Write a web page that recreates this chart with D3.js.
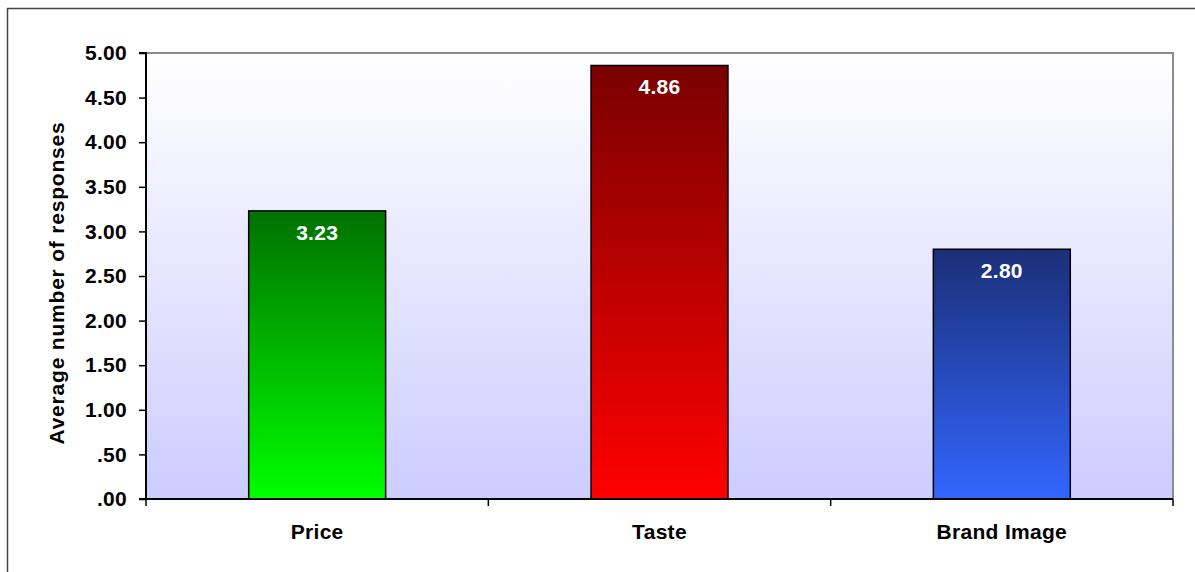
<!DOCTYPE html>
<html>
<head>
<meta charset="utf-8">
<script src="https://cdn.jsdelivr.net/npm/d3@7"></script>
<style>
  html, body { margin: 0; padding: 0; background: #ffffff; }
  svg { display: block; font-family: "Liberation Sans", Arial, sans-serif; }
</style>
</head>
<body>
<svg id="chart" width="1195" height="572"></svg>
<script>
// Average responses per purchase factor
const categories = ["Price", "Taste", "Brand Image"];
const values = [3.23, 4.86, 2.80];
const tickValues = [0, 0.5, 1, 1.5, 2, 2.5, 3, 3.5, 4, 4.5, 5];
const tickLabels = [".00", ".50", "1.00", "1.50", "2.00", "2.50", "3.00", "3.50", "4.00", "4.50", "5.00"];
const barTopColors = ["#007000", "#7a0000", "#1b2f78"];
const barBottomColors = ["#00ff00", "#ff0000", "#3366ff"];
const yTitle = "Average number of responses";

const svg = d3.select("#chart");
const margin = { left: 146, top: 53, right: 1173, bottom: 499 };

// outer frame (only left and top edges fall within the canvas)
svg.append("path")
  .attr("d", "M7.5,572 V8.5 H1195")
  .attr("fill", "none").attr("stroke", "#444").attr("stroke-width", 1.5);

const defs = svg.append("defs");
const bg = defs.append("linearGradient").attr("id", "bgGrad")
  .attr("x1", 0).attr("y1", 0).attr("x2", 0).attr("y2", 1);
bg.append("stop").attr("offset", "0%").attr("stop-color", "#ffffff");
bg.append("stop").attr("offset", "100%").attr("stop-color", "#ccccff");

categories.forEach((c, i) => {
  const g = defs.append("linearGradient").attr("id", "barGrad" + i)
    .attr("x1", 0).attr("y1", 0).attr("x2", 0).attr("y2", 1);
  g.append("stop").attr("offset", "0%").attr("stop-color", barTopColors[i]);
  g.append("stop").attr("offset", "100%").attr("stop-color", barBottomColors[i]);
});

const x = d3.scaleBand().domain(categories)
  .range([margin.left, margin.right]).paddingInner(0.6).paddingOuter(0.3);
const xOuter = d3.scaleBand().domain(categories).range([margin.left, margin.right]);
const y = d3.scaleLinear().domain([0, 5]).range([margin.bottom, margin.top]);

// plot background
svg.append("rect")
  .attr("x", margin.left).attr("y", margin.top)
  .attr("width", margin.right - margin.left).attr("height", margin.bottom - margin.top)
  .attr("fill", "url(#bgGrad)");

// top and right plot border
svg.append("path")
  .attr("d", `M${margin.left},${margin.top} H${margin.right} V${margin.bottom}`)
  .attr("fill", "none").attr("stroke", "#8c8c8c").attr("stroke-width", 2);

// bars
svg.selectAll("rect.bar").data(values).join("rect")
  .attr("class", "bar")
  .attr("x", (d, i) => x(categories[i]))
  .attr("y", d => y(d))
  .attr("width", x.bandwidth())
  .attr("height", d => y(0) - y(d))
  .attr("fill", (d, i) => `url(#barGrad${i})`)
  .attr("stroke", "#000").attr("stroke-width", 1.5);

// value labels
svg.selectAll("text.val").data(values).join("text")
  .attr("class", "val")
  .attr("x", (d, i) => x(categories[i]) + x.bandwidth() / 2)
  .attr("y", d => y(d) + 29)
  .attr("text-anchor", "middle")
  .attr("fill", "#ffffff").attr("font-weight", "bold").attr("font-size", 21)
  .attr("letter-spacing", 0.3)
  .text(d => d.toFixed(2));

// y axis
const yAxis = d3.axisLeft(y).tickValues(tickValues)
  .tickFormat((d, i) => tickLabels[i]).tickSize(7).tickPadding(12);
const gy = svg.append("g").attr("transform", `translate(${margin.left},0)`).call(yAxis);
gy.select(".domain").attr("stroke", "#000").attr("stroke-width", 2)
  .attr("d", `M${-7},${margin.bottom}H0V${margin.top}H${-7}`);
gy.selectAll(".tick line").attr("stroke", "#000").attr("stroke-width", 1.5);
gy.selectAll(".tick text").attr("font-size", 21).attr("font-weight", "bold")
  .attr("letter-spacing", 0.3)
  .attr("fill", "#000").attr("font-family", "'Liberation Sans', Arial, sans-serif");

// x axis: ticks at category boundaries
const gx = svg.append("g").attr("transform", `translate(0,${margin.bottom})`);
gx.append("line").attr("x1", margin.left).attr("x2", margin.right)
  .attr("stroke", "#000").attr("stroke-width", 2);
const bounds = categories.map(c => xOuter(c)).concat([margin.right]);
gx.selectAll("line.tk").data(bounds).join("line")
  .attr("class", "tk")
  .attr("x1", d => d).attr("x2", d => d).attr("y1", 0).attr("y2", 7)
  .attr("stroke", "#000").attr("stroke-width", 1.5);
gx.selectAll("text").data(categories).join("text")
  .attr("x", d => xOuter(d) + xOuter.bandwidth() / 2)
  .attr("y", 40)
  .attr("text-anchor", "middle")
  .attr("font-size", 21).attr("font-weight", "bold").attr("fill", "#000")
  .attr("letter-spacing", 0.3)
  .text(d => d);

// y axis title
svg.append("text")
  .attr("transform", `translate(64,${(margin.top + margin.bottom) / 2 + 7}) rotate(-90)`)
  .attr("text-anchor", "middle")
  .attr("font-size", 21).attr("font-weight", "bold").attr("fill", "#000")
  .attr("letter-spacing", 0.8)
  .text(yTitle);
</script>
</body>
</html>
